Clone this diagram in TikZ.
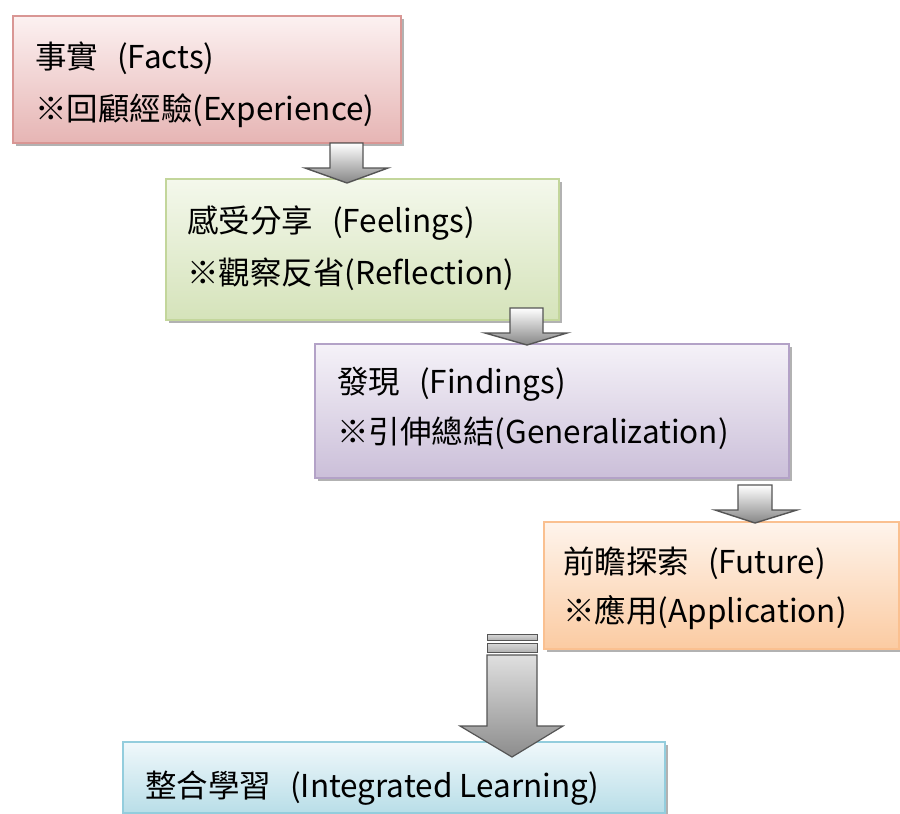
\documentclass[tikz,border=0pt]{standalone}
\usepackage{fontspec}
\setmainfont{Noto Sans CJK TC}
\usetikzlibrary{shadows}
\definecolor{rA}{HTML}{FCF1F1}\definecolor{rB}{HTML}{E6B5B4}\definecolor{rD}{HTML}{D99694}
\definecolor{gA}{HTML}{F4F8EC}\definecolor{gB}{HTML}{D5E3BA}\definecolor{gD}{HTML}{C3D69B}
\definecolor{pA}{HTML}{F5F2F8}\definecolor{pB}{HTML}{CBBFD9}\definecolor{pD}{HTML}{B3A2C7}
\definecolor{oA}{HTML}{FEF4EC}\definecolor{oB}{HTML}{FBCBA2}\definecolor{oD}{HTML}{FAC090}
\definecolor{cA}{HTML}{F0F8FB}\definecolor{cB}{HTML}{B9DEE8}\definecolor{cD}{HTML}{93CDDD}
\definecolor{arD}{HTML}{555555}
\tikzset{
  stagebox/.style={rectangle, inner sep=0pt, anchor=north west, line width=1.5pt,
    drop shadow={shadow xshift=3pt, shadow yshift=-3pt, fill=black, opacity=0.3}},
  label/.style={anchor=base west, inner sep=0pt, font=\fontsize{31.5}{38}\selectfont},
  blockarrow/.style={draw=arD, line width=1.4pt, line join=miter, top color=white, bottom color=gray!95},
}
\newcommand{\gapsp}{\hspace{19pt}}
\begin{document}
\begin{tikzpicture}[x=1pt,y=-1pt]
\useasboundingbox (0,0) rectangle (900,814);
% boxes
\node[stagebox, draw=rD, top color=rA, bottom color=rB, minimum width=388pt, minimum height=127pt] (f1) at (12,15) {};
\node[stagebox, draw=gD, top color=gA, bottom color=gB, minimum width=393pt, minimum height=141pt] (f2) at (165,178) {};
\node[stagebox, draw=pD, top color=pA, bottom color=pB, minimum width=474pt, minimum height=134pt] (f3) at (314,343) {};
\node[stagebox, draw=oD, top color=oA, bottom color=oB, minimum width=355pt, minimum height=127pt] (f4) at (543,521) {};
\node[stagebox, draw=cD, top color=cA, bottom color=cB, minimum width=542pt, minimum height=71pt] (f5) at (122,741) {};
% texts
\node[label] (t1a) at (35,68) {事實\gapsp(Facts)};
\node[label] (t1b) at (35,120) {※回顧經驗(Experience)};
\node[label] (t2a) at (187,232) {感受分享\gapsp(Feelings)};
\node[label] (t2b) at (187,284) {※觀察反省(Reflection)};
\node[label] (t3a) at (337,393) {發現\gapsp(Findings)};
\node[label] (t3b) at (337,443) {※引伸總結(Generalization)};
\node[label] (t4a) at (563,573) {前瞻探索\gapsp(Future)};
\node[label] (t4b) at (563,622) {※應用(Application)};
\node[label] (t5) at (145,797) {整合學習\gapsp(Integrated Learning)};
% small block arrows
\path[blockarrow] (330,143) -- (363,143) -- (363,168) -- (388,168) -- (347,183) -- (305,168) -- (330,168) -- cycle;
\path[blockarrow] (510,308) -- (543,308) -- (543,333) -- (567,333) -- (527,345) -- (485,333) -- (510,333) -- cycle;
\path[blockarrow] (738,485) -- (772,485) -- (772,510) -- (797,510) -- (755,523) -- (715,510) -- (738,510) -- cycle;
% big striped arrow
\path[blockarrow, line width=1pt, top color=gray!30, bottom color=gray!60] (487,634) rectangle (537,640);
\path[blockarrow, line width=1pt, top color=gray!30, bottom color=gray!60] (487,643) rectangle (537,652);
\path[blockarrow, top color=gray!25, bottom color=gray!90, line width=1.2pt] (487,655) -- (537,655) -- (537,726) -- (563,726) -- (512,757) -- (460,726) -- (487,726) -- cycle;
\end{tikzpicture}
\end{document}
